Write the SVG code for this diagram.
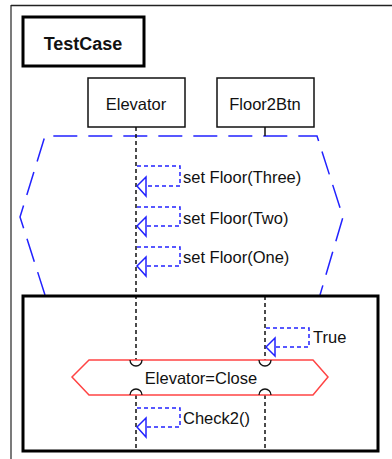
<svg xmlns="http://www.w3.org/2000/svg" width="392" height="459" viewBox="0 0 392 459">
<defs>
<style>
text{font-family:"Liberation Sans",Arial,sans-serif;font-size:16.5px;fill:#111}
.box{fill:#fff;stroke:#111;stroke-width:1.5}
.thick{fill:none;stroke:#000;stroke-width:3}
.life{fill:none;stroke:#111;stroke-width:1.5;stroke-dasharray:4 3}
.msg{fill:none;stroke:#2222ff;stroke-width:1.5;stroke-dasharray:4 3}
.head{fill:none;stroke:#2222ff;stroke-width:1.5}
.frag{fill:none;stroke:#2222ff;stroke-width:1.5;stroke-dasharray:24 11}
.cond{fill:#fff;stroke:#ff4444;stroke-width:1.5}
.arc{fill:none;stroke:#111;stroke-width:1.3}
</style>
</defs>
<rect width="392" height="459" fill="#fff"/>
<g id="frame">
<line x1="11" y1="5.5" x2="392" y2="5.5" stroke="#222" stroke-width="1.5"/>
<line x1="11" y1="5" x2="11" y2="459" stroke="#222" stroke-width="1.2"/>
</g>
<g id="testcase">
<rect x="23" y="17" width="121" height="49" class="thick" fill="#fff"/>
<text x="83" y="50" text-anchor="middle" font-weight="bold" style="font-size:18px">TestCase</text>
</g>
<g id="fragment-top">
<path d="M45,295 L20,217 L45,136 L317,136 L343,217 L320,295" class="frag"/>
</g>
<g id="connectors">
<line x1="136" y1="127" x2="136" y2="360" class="life"/>
<line x1="136" y1="395" x2="136" y2="451" class="life"/>
<line x1="265" y1="127" x2="265" y2="136" stroke="#111" stroke-width="1.5"/>
<line x1="265" y1="296" x2="265" y2="360" class="life"/>
<line x1="265" y1="395" x2="265" y2="451" class="life"/>
<polyline points="137,166 180,166 180,186 146,186" class="msg"/>
<polygon points="137,186 146,177 146,196" class="head"/>
<polyline points="137,207 180,207 180,226 146,226" class="msg"/>
<polygon points="137,226 146,217 146,236" class="head"/>
<polyline points="137,247 180,247 180,266 146,266" class="msg"/>
<polygon points="137,266 146,257 146,276" class="head"/>
<polyline points="266,328 309,328 309,347 275,347" class="msg"/>
<polygon points="266,347 275,338 275,356" class="head"/>
<polyline points="137,408 180,408 180,427 146,427" class="msg"/>
<polygon points="137,427 146,418 146,437" class="head"/>
</g>
<g id="fragment-bottom">
<rect x="23" y="296" width="355" height="155" class="thick"/>
</g>
<g id="condition">
<polygon points="72,377 89,360 313,360 328,377 313,395 89,395" class="cond"/>
<path d="M130,360 A6,6 0 0 0 142,360" class="arc"/>
<path d="M259,360 A6,6 0 0 0 271,360" class="arc"/>
<path d="M130,395 A6,6 0 0 1 142,395" class="arc"/>
<path d="M259,395 A6,6 0 0 1 271,395" class="arc"/>
<text x="201" y="383.5" text-anchor="middle">Elevator=Close</text>
</g>
<g id="elevator">
<rect x="88" y="78" width="97" height="49" class="box"/>
<text x="136" y="110" text-anchor="middle">Elevator</text>
</g>
<g id="floor2btn">
<rect x="217" y="78" width="97" height="49" class="box"/>
<text x="265" y="110" text-anchor="middle">Floor2Btn</text>
</g>
<g id="labels">
<text x="183" y="183">set Floor(Three)</text>
<text x="183" y="224">set Floor(Two)</text>
<text x="183" y="262.5">set Floor(One)</text>
<text x="313" y="343">True</text>
<text x="183" y="424">Check2()</text>
</g>
</svg>
